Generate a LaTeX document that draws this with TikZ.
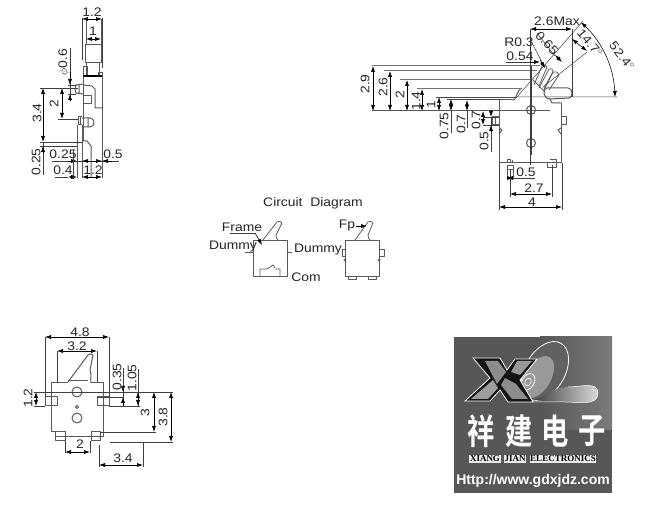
\documentclass[tikz,border=0pt]{standalone}
\usepackage{fontspec}
\setmainfont[FakeStretch=1.12]{Liberation Sans}
\newfontfamily\logosans{Liberation Sans}
\newfontfamily\logoserif{Liberation Serif}
\newfontfamily\cjkfont[BoldFont={* Bold}]{Noto Sans CJK SC}
\usetikzlibrary{arrows.meta}
\tikzset{
 part/.style={draw=black!65,line width=1pt,line join=round},
 thinpart/.style={draw=black!65,line width=0.75pt,line join=round},
 ext/.style={draw=black!75,line width=0.5pt},
 dimarrow/.style={draw=black,line width=0.55pt,{Latex[length=6pt,width=4pt]}-{Latex[length=6pt,width=4pt]}},
 endarrow/.style={draw=black,line width=0.55pt,-{Latex[length=6pt,width=4pt]}},
 lab/.style={font=\fontsize{12.4}{12.4}\selectfont,inner sep=0pt,black!85},
 rlab/.style={lab,rotate=90},
 logoword/.style={inner sep=0.7pt,fill=white!92!black,text=black,font=\logoserif\bfseries\fontsize{9}{9}\selectfont},
}
\begin{document}
\begin{tikzpicture}[x=1pt,y=-1pt]
\useasboundingbox (0,0) rectangle (659,518);
\fill[white] (0,0) rectangle (659,518);

% ---------- side view (top left) ----------
\draw[part] (83,76)--(102,76)--(102,178);
\draw[part] (85.5,45) rectangle (101,63);
\draw[part] (86,63)--(86,75) (99,63)--(99,75);
\draw[part] (86,19)--(86,45) (101,19)--(101,45);
\draw[part] (83,67) rectangle (87,76);
\draw[part] (98,73) rectangle (102,77);
\draw[draw=black,line width=1.2pt] (83,76)--(102,76);
\draw[part] (83,76)--(83,141);
\draw[part] (83,84)--(76,85)--(75,90)--(76,93)--(83,94) (79,85)--(79,93);
\draw[part] (82,117)--(78,117)--(78,125)--(82,125) (80,117)--(80,125);
\draw[part] (82,118)--(90,118) to[out=0,in=90] (94,122.5) to[out=-90,in=0] (90,127)--(82,127) (88,118)--(88,127);
\draw[part] (83,96) rectangle (91,104);
\draw[part] (83,85)--(92,86)--(95,89)--(95,108)--(102,108);
\draw[part] (77,125)--(77,178) (82,125)--(82,178);
\draw[part] (82,141)--(87,141)--(91,146)--(91,178);
\draw[ext] (82,18)--(82,60) (102,18)--(102,68);
\draw[dimarrow] (82,19)--(102,19);
\draw[dimarrow] (86,39)--(101,39);
\draw[ext] (40,88)--(78,88) (58,119)--(78,119) (40,142)--(82,142) (40,146)--(77,146) (68,94)--(76,94) (68,85)--(76,85);
\draw[dimarrow] (43,88)--(43,142);
\draw[dimarrow] (62,88)--(62,119);
\draw[ext] (43,142)--(43,175);
\draw[endarrow] (43,154)--(43,146);
\draw[ext] (70,48)--(70,100);
\draw[endarrow] (70,72)--(70,85);
\draw[endarrow] (70,100)--(70,94);
\draw[ext] (52,161)--(119,161);
\draw[endarrow] (68,161)--(77,161);
\draw[endarrow] (90,161)--(82,161);
\draw[endarrow] (112,161)--(102,161);
\draw[endarrow] (91,161)--(102,161);
\draw[ext] (55,177)--(68,177);
\draw[dimarrow] (68,177)--(77,177);
\draw[dimarrow] (82,177)--(102,177);
\draw[ext] (73,150)--(73,178);
\node[lab] (a12) at (92,12) {1.2};
\node[lab] (a1) at (93,31) {1};
\node[rlab] (aphi) at (64,62) {$\phi$0.6};
\node[rlab] (a34) at (37,113) {3.4};
\node[rlab] (a2) at (54,104) {2};
\node[rlab] (a025) at (36,162) {0.25};
\node[lab] (a025h) at (63,154) {0.25};
\node[lab] (a05) at (113,154) {0.5};
\node[lab] (a04) at (63,170) {0.4};
\node[lab] (a12b) at (93,170) {1.2};

% ---------- front view (top right) ----------
\draw[part] (462,100)--(512,100);
\draw[ext,black!55,line width=1pt] (372,66)--(540,66) (384,71)--(537,71) (400,80)--(532,80) (417,89)--(520,89);
\draw[draw=black!70,line width=0.8pt] (436,97)--(517,97) (447,99)--(505,99);
\draw[part] (372,111)--(550,111);
\draw[part] (499,100)--(499,163) (561,103)--(561,163) (499,163)--(561,163);
\draw[part] (512,100) to[out=-10,in=-110] (517,94) to[out=60,in=200] (522,88);
\draw[part] (544,93) to[out=90,in=180] (547,88)--(568,88) to[out=0,in=90] (572,93) to[out=-90,in=0] (569,98)--(550,99) to[out=180,in=-80] (544,93);
\draw[part] (550,99)--(552,103)--(561,103);
\draw[part] (492,117) rectangle (499,125) (495,117)--(495,125);
\draw[part] (561,117) rectangle (566,125);
\draw[part] (499,128)--(502,130)--(499,134);
\draw[part] (561,128)--(558,130)--(561,134);
\draw[part] (507,163)--(507,160)--(510,160)--(510,163) (512,160)--(512,163);
\draw[part] (507,166) rectangle (513,178) (507,170)--(513,170);
\draw[part] (547,163) rectangle (556,168) (550,160)--(556,160)--(556,163);
\draw[part] (531,110) circle[radius=4.5pt] (531,143) circle[radius=4.5pt];
\draw[ext] (531,66)--(531,155);
% handle
\draw[thinpart] (534,85)--(542,66)--(545,65)--(547,67)--(539,86);
\draw[thinpart] (539,88)--(549,69)--(552,69)--(553,72)--(544,88);
\draw[thinpart] (544,90)--(553,72)--(557,72)--(559,75)--(549,90);
\draw[thinpart] (533,80)--(545,92);
% dims
\draw[ext] (517,97)--(583,21) (543,87)--(587,52) (517,97)--(617,97);
\draw[ext] (530,29)--(530,165) (572,29)--(572,97);
\draw[dimarrow] (530,29)--(572,29);
\draw[dimarrow] (373,66)--(373,111);
\draw[dimarrow] (390,71)--(390,111);
\draw[dimarrow] (407,80)--(407,111);
\draw[dimarrow] (422,89)--(422,111);
\draw[dimarrow] (439,97)--(439,111);
\draw[dimarrow] (451,99)--(451,111);
\draw[dimarrow] (467,100)--(467,111);
\draw[ext] (451,111)--(451,133) (467,111)--(467,128);
\draw[dimarrow] (483,111)--(483,125);
\draw[ext] (483,125)--(499,125) (483,117)--(499,117);
\draw[endarrow] (491,110)--(491,117);
\draw[ext] (491,117)--(491,152);
\draw[endarrow] (491,132)--(491,125);
\draw[ext] (499,163)--(499,210) (562,163)--(562,210) (510,170)--(510,197) (552,165)--(552,197);
\draw[ext] (507,178)--(535,178);
\draw[dimarrow] (507,178)--(513,178);
\draw[dimarrow] (510,194)--(552,194);
\draw[dimarrow] (499,207)--(562,207);
\draw[ext] (506,62)--(530,62);
\draw[endarrow] (530,62)--(540,62);
\draw[ext] (533,45)--(545,68);
\draw[endarrow] (540,60)--(545,68);
\draw[ext] (537,33)--(555,56);
\draw[dimarrow] (555,55)--(562,62);
\draw[dimarrow] (572,39)--(587,51);
\draw[dimarrow] plot[domain=49:0,samples=30] ({516+99*cos(\x)},{97-99*sin(\x)});
\node[rlab] (b29) at (365,84) {2.9};
\node[rlab] (b26) at (383,87) {2.6};
\node[rlab] (b2) at (400,95) {2};
\node[rlab] (b14) at (416,101) {1.4};
\node[rlab] (b1) at (431,105) {1};
\node[rlab] (b075) at (444,126) {0.75};
\node[rlab] (b07) at (461,124) {0.7};
\node[rlab] (b07b) at (476,120) {0.7};
\node[rlab] (b05) at (484,141) {0.5};
\node[lab] (b05h) at (526,172) {0.5};
\node[lab] (b27) at (534,188) {2.7};
\node[lab] (b4) at (532,202) {4};
\node[lab] (b26m) at (557,21) {2.6Max};
\node[lab] (br) at (519,42) {R0.3};
\node[lab] (b054) at (520,56) {0.54};
\node[lab,rotate=-47] (b065) at (547,43) {0.65};
\node[lab,rotate=-50] (b147) at (590,43) {14.7$^\circ$};
\node[lab,rotate=-52] (b524) at (622,56) {52.4$^\circ$};

% ---------- circuit diagram ----------
\node[lab] (c0) at (313,203) {Circuit\ \ Diagram};
\draw[thinpart] (253,240) rectangle (287,276);
\draw[thinpart] (263,240)--(277,222) to[out=50,in=110] (282,223)--(276,235) to[out=-60,in=180] (278,240);
\draw[thinpart] (245,252)--(253,252) (287,252)--(292,252);
\draw[thinpart] (260,276)--(260,269)--(267,269)--(273,265)--(275,268) (275,269)--(280,269)--(280,276);
\draw[ext] (230,233)--(255,233);
\draw[endarrow] (255,233)--(262,245);
\node[lab] (c1) at (242,227) {Frame};
\node[lab] (c2) at (233,247) {Dummy};
\node[lab] (c3) at (318,250) {Dummy};
\node[lab] (c4) at (306,277) {Com};
\draw[thinpart] (345,240) rectangle (379,276);
\draw[thinpart] (355,240)--(368,222) to[out=50,in=110] (373,223)--(368,235) to[out=-60,in=180] (370,240);
\draw[thinpart] (342,249) rectangle (345,256) (379,249) rectangle (384,256);
\draw[thinpart] (348,276) rectangle (356,279) (368,276) rectangle (376,279);
\draw[thinpart] (345,260) circle[radius=1.2pt] (379,260) circle[radius=1.2pt];
\node[lab] (c5) at (347,226) {Fp};
\draw[endarrow] (356,226)--(367,226);

% ---------- top view (bottom left) ----------
\draw[part] (51,383)--(68,383) (91,383)--(103,383)--(103,437)--(55,437)--(55,432)--(51,432)--(51,383);
\draw[part] (68,382)--(88,355) to[out=40,in=120] (93,355)--(90,370) to[out=-70,in=100] (91,383);
\draw[part] (68,381)--(88,381);
\draw[part] (45,397) rectangle (57,406) (97,397) rectangle (109,406);
\draw[part] (55,432) rectangle (65,441) (91,432) rectangle (100,441);
\draw[part] (77,392) circle[radius=5pt] (77,418) circle[radius=5pt] (77,407) circle[radius=1.5pt];
\draw[ext] (45,337)--(45,397) (109,337)--(109,397) (57,351)--(57,383) (97,351)--(97,383);
\draw[dimarrow] (45,337)--(109,337);
\draw[dimarrow] (57,351)--(97,351);
\draw[ext] (34,392)--(173,392) (34,406)--(45,406) (109,406)--(140,406) (97,397)--(123,397);
\draw[dimarrow] (36,392)--(36,406);
\draw[ext] (123,368)--(123,406) (138,369)--(138,406);
\draw[endarrow] (123,406)--(123,397);
\draw[endarrow] (123,386)--(123,392);
\draw[dimarrow] (138,392)--(138,406);
\draw[ext] (100,432)--(156,432) (110,442)--(173,442);
\draw[dimarrow] (154,392)--(154,432);
\draw[dimarrow] (171,392)--(171,442);
\draw[ext] (99,445)--(99,467) (143,443)--(143,467) (65,441)--(65,453) (90,441)--(90,453);
\draw[dimarrow] (99,465)--(143,465);
\draw[dimarrow] (65,452)--(90,452);
\node[lab] (d48) at (80,332) {4.8};
\node[lab] (d32) at (77,346) {3.2};
\node[rlab] (d12) at (28,398) {1.2};
\node[rlab] (d035) at (117,377) {0.35};
\node[rlab] (d105) at (132,378) {1.05};
\node[rlab] (d3) at (145,413) {3};
\node[rlab] (d38) at (163,417) {3.8};
\node[lab] (d34) at (123,458) {3.4};
\node[lab] (d2) at (80,444) {2};

% ---------- logo ----------
\fill[black!66] (454,337) rectangle (612,493);
\fill[left color=black!66,right color=black!52] (540,337) rectangle (612,430);
% disc
\draw[white,line width=0.8pt,fill=black!62,rotate around={60:(545,371)}] (545,371) ellipse[x radius=32pt,y radius=20pt];
\fill[black!40,rotate around={60:(538,377)}] (538,377) ellipse[x radius=23pt,y radius=13pt];
\draw[white,line width=0.8pt,rotate around={60:(528,382)}] (528,382) ellipse[x radius=9pt,y radius=6pt];
\draw[white,line width=0.6pt,rotate around={60:(528,382)}] (528,382) ellipse[x radius=4pt,y radius=3pt];
\path[left color=black!75,right color=black!15] (533,400) to[out=15,in=180] (568,387) to[out=0,in=90] (598,393) to[out=-90,in=0] (565,402)--cycle;
\draw[white,line width=0.5pt] (568,387) to[out=0,in=90] (598,393) to[out=-90,in=0] (565,402)--(533,402);
% X
\draw[white,line width=0.8pt,fill=black!92] (473,358)--(500,358)--(507,370)--(515,359)--(537,359)--(520,380)--(533,402)--(508,402)--(500,390)--(490,401)--(465,401)--(490,378)--cycle;
\fill[black!45] (485,361)--(498,361)--(506,372)--(497,384)--cycle;
\fill[black!40] (517,361)--(532,361)--(520,375)--(511,372)--cycle;
\fill[black!45] (505,378)--(516,384)--(528,399)--(512,399)--(501,385)--cycle;
\fill[black!38] (493,380)--(498,388)--(488,399)--(471,399)--cycle;
% characters
\foreach \cx/\ch/\nm in {481/祥/e1,519.5/建/e2,555/电/e3,592/子/e4}{
 \node[inner sep=0pt,text=white,font=\cjkfont\bfseries\fontsize{35}{35}\selectfont] (\nm) at (\cx,431) {\scalebox{0.78}[1]{\ch}};
}
\node[logoword] (e5) at (485,459) {XIANG};
\node[logoword] (e7) at (515,459) {JIAN};
\node[logoword] (e8) at (563,459) {ELECTRONICS};
\node[inner sep=0pt,text=white,font=\logosans\bfseries\fontsize{14}{14}\selectfont] (e6) at (533,481) {Http://www.gdxjdz.com};
\end{tikzpicture}
\end{document}
